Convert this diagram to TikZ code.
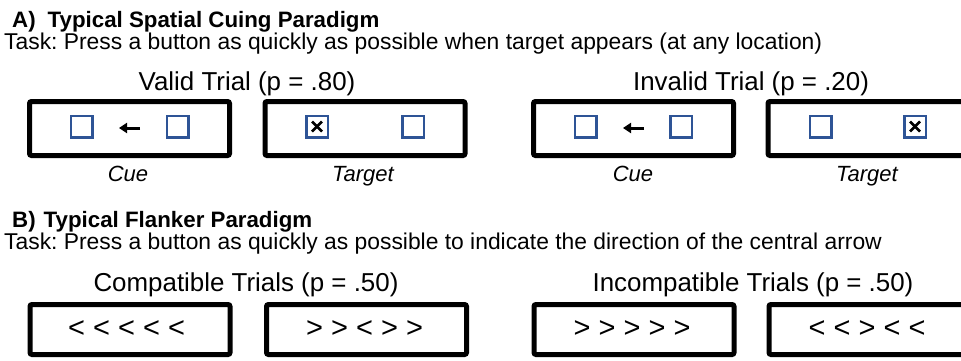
\documentclass[tikz,border=0pt]{standalone}
\usepackage{fontspec}
\setmainfont{Liberation Sans}
\usetikzlibrary{arrows.meta}
\definecolor{sqblue}{RGB}{46,84,150}
\frenchspacing
\begin{document}
\begin{tikzpicture}[x=1pt,y=-1pt,
  panel/.style={draw, line width=5pt, rounded corners=2pt, minimum width=200pt, inner sep=0pt},
  cuebox/.style={panel, minimum height=54pt},
  flankbox/.style={panel, minimum height=50pt, font=\fontsize{29}{32}\selectfont},
  loc/.style={draw=sqblue, line width=2.5pt, minimum size=21.5pt, inner sep=0pt},
  hdr/.style={anchor=base west, inner sep=0pt, font=\fontsize{22.3}{26}\selectfont\bfseries},
  tasktxt/.style={anchor=base west, inner sep=0pt, font=\fontsize{22.85}{26}\selectfont},
  trial/.style={anchor=base, inner sep=0pt, font=\fontsize{25.9}{30}\selectfont},
  lbl/.style={anchor=base, inner sep=0pt, font=\fontsize{22}{26}\selectfont\itshape},
  cuearrow/.style={line width=3pt, -{Triangle[length=8pt,width=10pt]}},
  xmark/.style={line width=2.6pt}
]
\useasboundingbox (0,0) rectangle (961,360);
\clip (0,0) rectangle (961,360);
\fill[white] (0,0) rectangle (961,360);

% ---------- Panel A ----------
\node[hdr] (hA) at (12,27) {A)\hspace{12pt}Typical Spatial Cuing Paradigm};
\node[tasktxt] (tA) at (4,49.3) {Task: Press a button as quickly as possible when target appears (at any location)};

\node[trial] (valid) at (247,90.5) {Valid Trial (p = .80)};
\node[trial] (invalid) at (751,90.5) {Invalid Trial (p = .20)};

\node[cuebox] (c1) at (129.5,128.5) {};
\node[cuebox] (t1) at (365,128.5) {};
\node[cuebox] (c2) at (633.5,128.5) {};
\node[cuebox] (t2) at (868,128.5) {};

% location squares
\node[loc] (c1l) at (81.5,126.5) {};
\node[loc] (c1r) at (177.5,126.5) {};
\node[loc] (t1l) at (317,126.5) {};
\node[loc] (t1r) at (413,126.5) {};
\node[loc] (c2l) at (585.5,126.5) {};
\node[loc] (c2r) at (681,126.5) {};
\node[loc] (t2l) at (820.5,126.5) {};
\node[loc] (t2r) at (915,126.5) {};

% cue arrows
\coordinate (a1s) at (140,128);
\coordinate (a1e) at (119,128);
\draw[cuearrow] (a1s) -- (a1e);
\coordinate (a2s) at (644,128);
\coordinate (a2e) at (623,128);
\draw[cuearrow] (a2s) -- (a2e);

% targets
\draw[xmark] ([shift={(-5,-5)}]t1l.center) -- ([shift={(5,5)}]t1l.center);
\draw[xmark] ([shift={(-5,5)}]t1l.center) -- ([shift={(5,-5)}]t1l.center);
\draw[xmark] ([shift={(-5,-5)}]t2r.center) -- ([shift={(5,5)}]t2r.center);
\draw[xmark] ([shift={(-5,5)}]t2r.center) -- ([shift={(5,-5)}]t2r.center);

\node[lbl] (cue1) at (128,181) {Cue};
\node[lbl] (tar1) at (363,181) {Target};
\node[lbl] (cue2) at (633,181) {Cue};
\node[lbl] (tar2) at (867,181) {Target};

% ---------- Panel B ----------
\node[hdr] (hB) at (12,227) {B)\hspace{8pt}Typical Flanker Paradigm};
\node[tasktxt] (tB) at (4,249) {Task: Press a button as quickly as possible to indicate the direction of the central arrow};

\node[trial] (compat) at (246,291) {Compatible Trials (p = .50)};
\node[trial] (incompat) at (753,291) {Incompatible Trials (p = .50)};

\node[flankbox] (f1) at (130,329.5) {};
\node[flankbox] (f2) at (366.5,329.5) {};
\node[flankbox] (f3) at (634,329.5) {};
\node[flankbox] (f4) at (869,329.5) {};
\node[font=\fontsize{29}{32}\selectfont, inner sep=0pt] (s1) at (126.5,329.5) {< < < < <};
\node[font=\fontsize{29}{32}\selectfont, inner sep=0pt] (s2) at (364.5,329.5) {> > < > >};
\node[font=\fontsize{29}{32}\selectfont, inner sep=0pt] (s3) at (632,329.5) {> > > > >};
\node[font=\fontsize{29}{32}\selectfont, inner sep=0pt] (s4) at (867,329.5) {< < > < <};
\end{tikzpicture}
\end{document}
